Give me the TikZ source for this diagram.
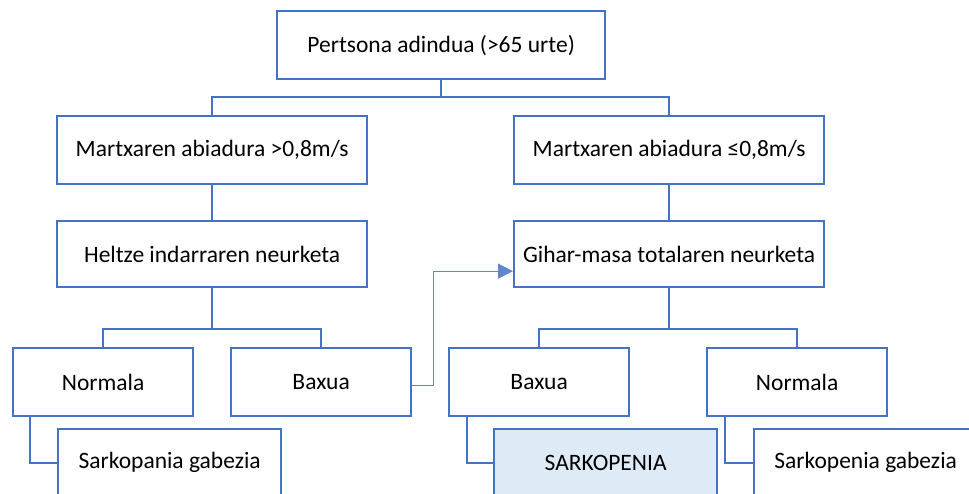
\documentclass[tikz,border=0pt]{standalone}
\usepackage{fontspec}
\setmainfont{Carlito}
\usetikzlibrary{arrows.meta}
\definecolor{bl}{HTML}{4472C4}
\definecolor{fillb}{HTML}{DEEBF7}
\begin{document}
\begin{tikzpicture}[x=1pt,y=-1pt,
  box/.style={draw=bl,line width=2.3pt,anchor=north west,inner sep=0pt,
    font=\fontsize{23.5}{27}\selectfont,text=black},
  conn/.style={draw=bl,line width=2.3pt},
  arr/.style={draw=bl!85,line width=1.3pt,-{Triangle[length=15pt,width=15pt]}}]
\clip (0,0) rectangle (969,493);
\fill[white] (0,0) rectangle (969,493);
\node[box,minimum width=328pt,minimum height=68pt] (top) at (276,10) {Pertsona adindua (>65 urte)};
\node[box,minimum width=310pt,minimum height=68pt] (m1) at (56,115) {Martxaren abiadura >0,8m/s};
\node[box,minimum width=310pt,minimum height=68pt] (m2) at (513,115) {Martxaren abiadura ≤0,8m/s};
\node[box,minimum width=310pt,minimum height=66pt] (h) at (56,220) {Heltze indarraren neurketa};
\node[box,minimum width=310pt,minimum height=66pt] (g) at (513,220) {Gihar-masa totalaren neurketa};
\node[box,minimum width=180pt,minimum height=68pt] (n1) at (12,347) {Normala};
\node[box,minimum width=180pt,minimum height=68pt] (b1) at (230,347) {Baxua};
\node[box,minimum width=180pt,minimum height=68pt] (b2) at (448,347) {Baxua};
\node[box,minimum width=180pt,minimum height=68pt] (n2) at (706,347) {Normala};
\node[box,minimum width=223pt,minimum height=67pt] (s1) at (57,428) {Sarkopania gabezia};
\node[box,fill=fillb,minimum width=223pt,minimum height=67pt] (sk) at (493,428) {SARKOPENIA};
\node[box,minimum width=223pt,minimum height=67pt] (s2) at (753,428) {Sarkopenia gabezia};
% connectors
\draw[conn] (top.south) -- (top.south |- 0,97) -| (m1.north);
\draw[conn] (top.south) -- (top.south |- 0,97) -| (m2.north);
\draw[conn] (m1.south) -- (h.north);
\draw[conn] (m2.south) -- (g.north);
\draw[conn] (h.south) -- (h.south |- 0,329) -| (n1.north);
\draw[conn] (h.south) -- (h.south |- 0,329) -| (b1.north);
\draw[conn] (g.south) -- (g.south |- 0,329) -| (b2.north);
\draw[conn] (g.south) -- (g.south |- 0,329) -| (n2.north);
\draw[conn] ([xshift=18pt]n1.south west) |- (s1.west);
\draw[conn] ([xshift=19pt]b2.south west) |- (sk.west);
\draw[conn] ([xshift=19pt]n2.south west) |- (s2.west);
\draw[arr] ([yshift=-3pt]b1.east) -- ++(21,0) |- ([yshift=-17pt]g.west);
\end{tikzpicture}
\end{document}
